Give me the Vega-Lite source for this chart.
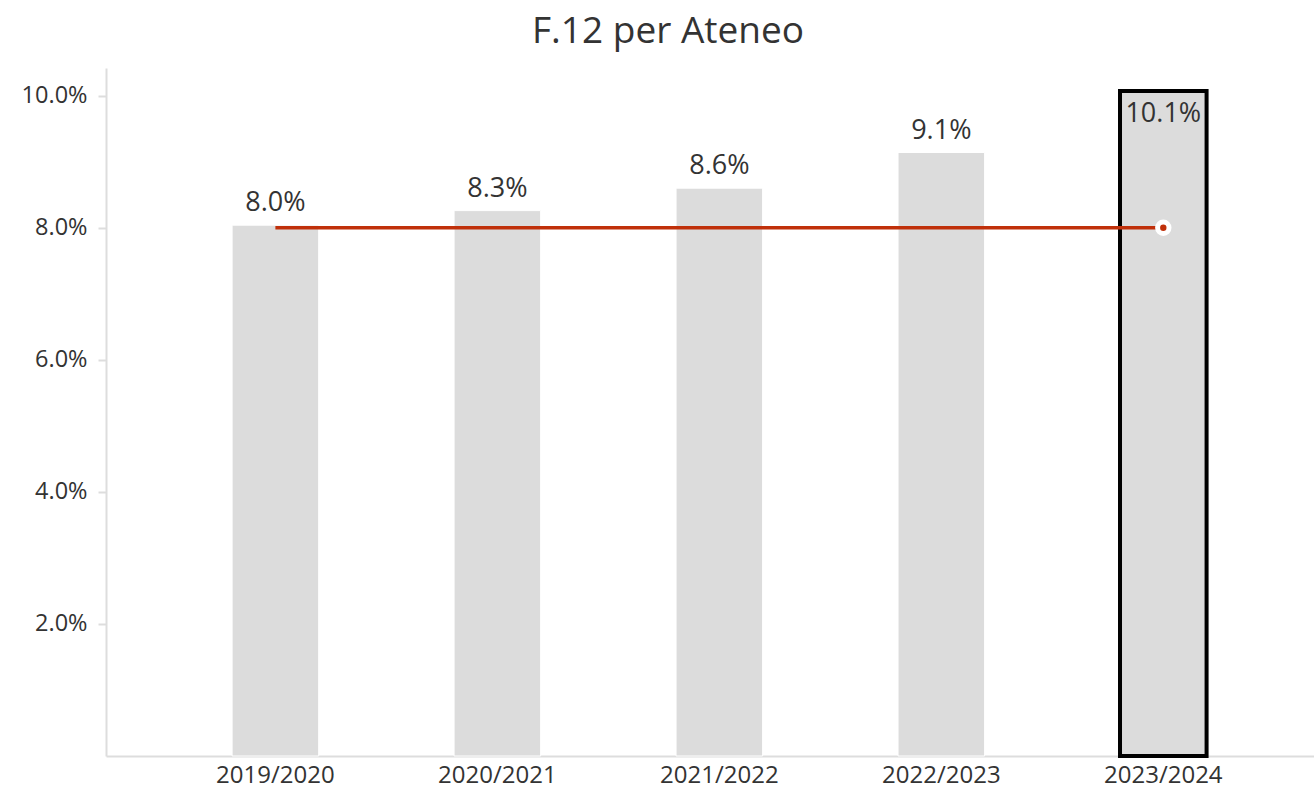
{
  "$schema": "https://vega.github.io/schema/vega-lite/v6.json",
  "width": 1208,
  "height": 688,
  "autosize": {"type": "none"},
  "padding": {"left": 106, "top": 68, "right": 0, "bottom": 38},
  "background": "white",
  "title": {"text": "F.12 per Ateneo", "fontSize": 37, "font": "Open Sans", "fontWeight": "normal", "color": "#333333", "anchor": "middle", "frame": "group", "dx": -42, "offset": 17},
  "config": {"font": "Open Sans", "view": {"stroke": null}},
  "data": {"values": [
    {"anno": "2019/2020", "valore": 0.0804, "riferimento": 0.080},
    {"anno": "2020/2021", "valore": 0.0826, "riferimento": 0.080},
    {"anno": "2021/2022", "valore": 0.0860, "riferimento": 0.080},
    {"anno": "2022/2023", "valore": 0.0914, "riferimento": 0.080},
    {"anno": "2023/2024", "valore": 0.1007, "riferimento": 0.080}
  ]},
  "encoding": {
    "x": {"field": "anno", "type": "nominal", "sort": null,
      "scale": {"paddingInner": 0.61, "paddingOuter": 0.526, "align": 0.54},
      "axis": {"title": null, "labelAngle": 0, "ticks": false, "domainColor": "#dddddd", "domainWidth": 2, "labelFontSize": 24, "labelColor": "#333333", "labelPadding": 7}}
  },
  "layer": [
    {"mark": {"type": "bar", "color": "#dcdcdc", "stroke": "#ffffff", "strokeWidth": 1},
     "encoding": {"y": {"field": "valore", "type": "quantitative",
       "scale": {"domain": [0, 0.1042], "nice": false, "zero": true},
       "axis": {"title": null, "values": [0.02, 0.04, 0.06, 0.08, 0.1], "format": ".1%", "grid": false, "tickColor": "#dddddd", "tickSize": 8, "tickWidth": 2, "domainColor": "#dddddd", "domainWidth": 2, "labelFontSize": 23.5, "labelColor": "#333333", "labelPadding": 11}}}},
    {"transform": [{"filter": "datum.anno === '2023/2024'"}],
     "mark": {"type": "bar", "fill": "#dcdcdc", "stroke": "#000000", "strokeWidth": 4},
     "encoding": {"y": {"field": "valore", "type": "quantitative"}}},
    {"mark": {"type": "line", "color": "#c0300a", "strokeWidth": 3.5},
     "encoding": {"y": {"field": "riferimento", "type": "quantitative"}}},
    {"transform": [{"filter": "datum.anno === '2023/2024'"}],
     "mark": {"type": "point", "filled": true, "fill": "#c0300a", "stroke": "#ffffff", "strokeWidth": 5, "size": 130, "opacity": 1},
     "encoding": {"y": {"field": "riferimento", "type": "quantitative"}}},
    {"transform": [{"filter": "datum.anno !== '2023/2024'"}],
     "mark": {"type": "text", "baseline": "middle", "dy": -22, "fontSize": 27, "color": "#333333"},
     "encoding": {"y": {"field": "valore", "type": "quantitative"}, "text": {"field": "valore", "type": "quantitative", "format": ".1%"}}},
    {"transform": [{"filter": "datum.anno === '2023/2024'"}],
     "mark": {"type": "text", "baseline": "middle", "dy": 23, "fontSize": 27, "color": "#333333"},
     "encoding": {"y": {"field": "valore", "type": "quantitative"}, "text": {"field": "valore", "type": "quantitative", "format": ".1%"}}}
  ]
}
